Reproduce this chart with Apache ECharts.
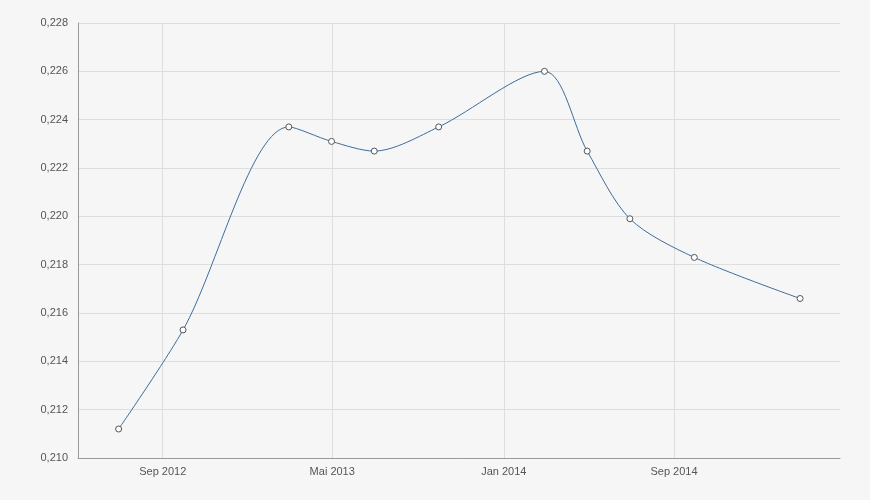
<!DOCTYPE html>
<html><head><meta charset="utf-8">
<script src="https://cdn.jsdelivr.net/npm/echarts@6/dist/echarts.min.js"></script>
<style>html,body{margin:0;padding:0;background:#f6f6f6;}#c{width:870px;height:500px;}</style>
</head><body><div id="c"></div>
<script>
const dates = ['2012-06-30','2012-09-30','2013-02-28','2013-04-30','2013-06-30','2013-09-30','2014-02-28','2014-04-30','2014-06-30','2014-09-30','2015-02-28'];
const values = [0.2112,0.2153,0.2237,0.2231,0.2227,0.2237,0.2260,0.2227,0.2199,0.2183,0.2166];
const xTicks = ['2012-09-01','2013-05-01','2014-01-01','2014-09-01'];
const monthNames = ['Jan','Feb','Mär','Apr','Mai','Jun','Jul','Aug','Sep','Okt','Nov','Dez'];
const yMin = 0.210, yMax = 0.228, yStep = 0.002;

function ts(s){const p=s.split('-').map(Number);return Date.UTC(p[0],p[1]-1,p[2]);}
const data = dates.map((d,i)=>[ts(d),values[i]]);
const tickVals = xTicks.map(ts);
const chart = echarts.init(document.getElementById('c'));
chart.setOption({
  backgroundColor:'#f6f6f6',
  animation:false,
  grid:{left:78,right:30,top:23,bottom:42},
  xAxis:{type:'value',min:ts('2012-05-03'),max:ts('2015-04-26'),
    axisLine:{lineStyle:{color:'#999'}},
    axisTick:{show:false,customValues:tickVals},
    axisLabel:{customValues:tickVals,color:'#555',fontSize:11,fontFamily:'Arial',margin:8,
      formatter:function(v){const d=new Date(v);return monthNames[d.getUTCMonth()]+' '+d.getUTCFullYear();}},
    splitLine:{show:true,lineStyle:{color:'#dedede'}}},
  yAxis:{type:'value',min:yMin,max:yMax,interval:yStep,
    axisLine:{show:true,lineStyle:{color:'#999'}},
    axisTick:{show:false},
    axisLabel:{color:'#555',fontSize:11,fontFamily:'Arial',margin:10,
      formatter:function(v){return v.toFixed(3).replace('.',',');}},
    splitLine:{lineStyle:{color:'#dedede'}}},
  series:[{type:'line',data:data,smooth:0.3,
    lineStyle:{color:'#3e6d9c',width:1},
    symbol:'circle',symbolSize:6,
    itemStyle:{color:'#ffffff',borderColor:'#555',borderWidth:1}}]
});
</script></body></html>
